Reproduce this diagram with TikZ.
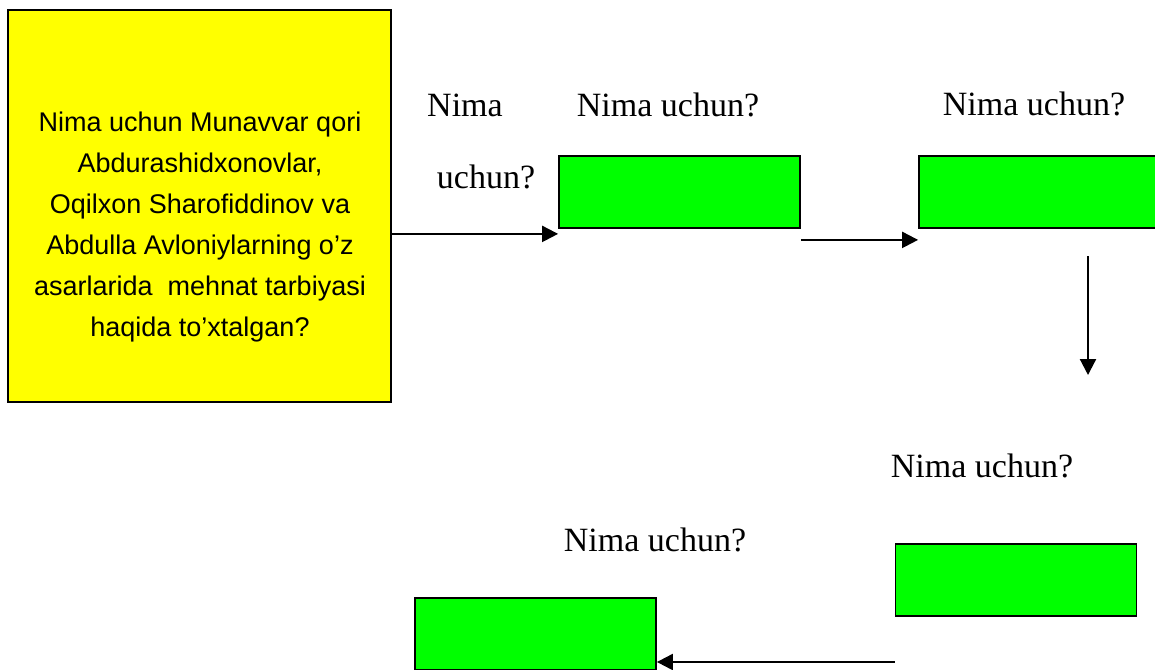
\documentclass[tikz,border=0pt]{standalone}
\usepackage{fontspec}
\setmainfont{Liberation Serif}
\newfontfamily\boxfont{Liberation Sans}
\usetikzlibrary{arrows.meta,positioning,calc}
\definecolor{qYellow}{RGB}{255,255,0}
\definecolor{qGreen}{RGB}{0,255,0}
\tikzset{
  ybox/.style={draw, line width=0.9pt, fill=qYellow, minimum width=191.5pt, minimum height=196pt, inner sep=0pt},
  gbox/.style={draw, line width=0.9pt, fill=qGreen, minimum width=120.5pt, minimum height=36pt, inner sep=0pt},
  qlbl/.style={anchor=base, inner sep=0pt, font=\fontsize{17}{20}\selectfont},
  arr/.style={line width=1.1pt, -{Triangle[length=8pt,width=8pt]}}
}
\begin{document}
\begin{tikzpicture}[x=0.5pt, y=-0.5pt]
  \useasboundingbox (0,0) rectangle (1155,669);
  \clip (0,0) rectangle (1155,669);

  % question box
  \node[ybox] (yel) at (199.5,206) {};
  \node[align=center, inner sep=0pt, font=\boxfont\fontsize{13.5}{20.5}\selectfont] (yeltxt) at (200,227)
    {Nima uchun Munavvar qori\\ Abdurashidxonovlar,\\ Oqilxon Sharofiddinov va\\
     Abdulla Avloniylarning o’z\\ asarlarida\ \ mehnat tarbiyasi\\ haqida to’xtalgan?};

  % answer boxes
  \node[gbox] (g1) at (679.5,192) {};
  \node[gbox] (g2) at (1039.5,192) {};
  \node[gbox] (g3) at (1016,580) {};
  \node[gbox] (g4) at (535.5,634) {};

  % labels
  \node[qlbl] (l0a) at (465,116) {Nima};
  \node[qlbl] (l0b) at (486,188) {uchun?};
  \node[qlbl] (l1) at (668,116) {Nima uchun?};
  \node[qlbl] (l2) at (1034,115) {Nima uchun?};
  \node[qlbl] (l3) at (982,477) {Nima uchun?};
  \node[qlbl] (l4) at (655,551) {Nima uchun?};

  % arrows
  \coordinate (down) at (1088,375);
  \draw[arr] ([yshift=-2.5pt]yel.east |- g1.south west) -- ([yshift=-2.5pt]g1.south west);
  \draw[arr] ([yshift=-5.5pt]g1.south east) -- ([yshift=-5.5pt]g2.south west);
  \draw[arr] (down |- 0,256) -- (down);
  \draw[arr] ([yshift=-14pt]g3.west |- g4.east) -- ([yshift=-14pt]g4.east);
\end{tikzpicture}
\end{document}
